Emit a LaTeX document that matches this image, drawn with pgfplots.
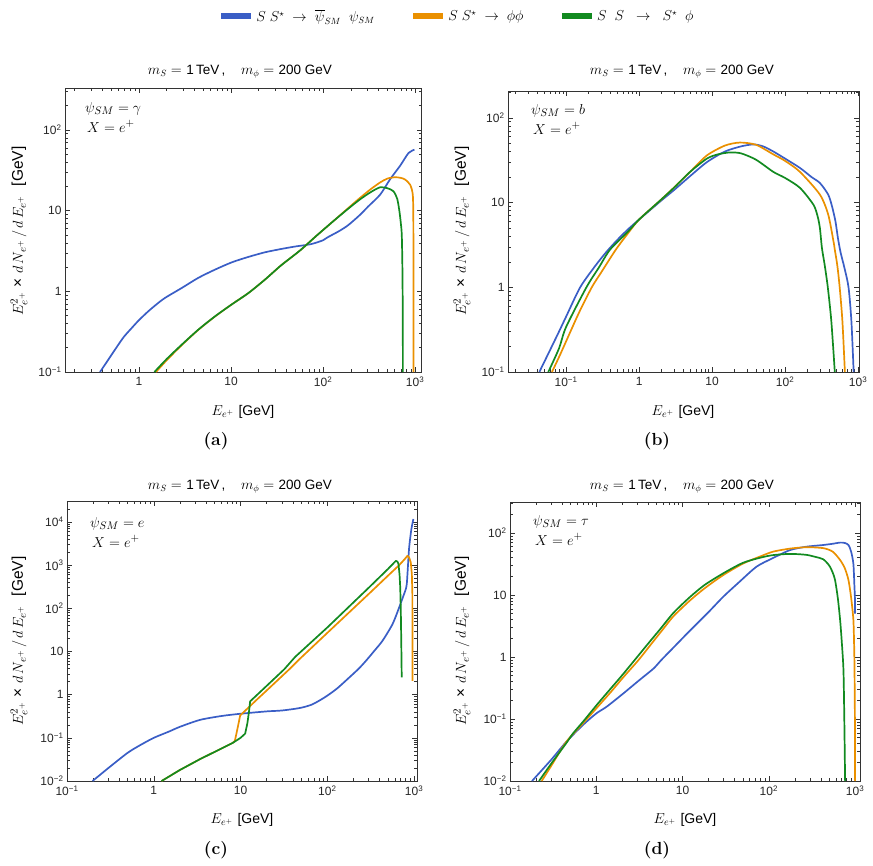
\documentclass[border=0pt]{standalone}
\usepackage{fontspec}
\setsansfont{Liberation Sans}
\usepackage{pgfplots}
\pgfplotsset{compat=1.18}

\definecolor{cblue}{RGB}{58,94,198}
\definecolor{corange}{RGB}{234,144,0}
\definecolor{cgreen}{RGB}{18,138,32}

% common look of the four spectra panels
\pgfplotsset{
  scale only axis,
  axis line style={black!80, line width=0.9pt},
  tick align=inside, major tick length=5pt, minor tick length=2.6pt,
  tick style={black!80, line width=0.5pt},
  tick label style={font=\sffamily\fontsize{12}{13}\selectfont, black!85},
  xticklabel style={yshift=-1.5pt},
  every axis plot/.append style={line width=1.7pt, line join=round, smooth, tension=0.45},
}

\newcommand{\ttl}{\(m_S =\) \textsf{1\,TeV\,,}\;\;\; \(m_{\phi} =\) \textsf{200\ GeV}}
\newcommand{\ylab}{\(E^{2}_{e^{+}}\)~\textsf{×}~\(d\,N_{e^{+}}\,\big/\,d\,E_{e^{+}}\)~~\textsf{[GeV]}}
\newcommand{\xlab}{\(E_{e^{+}}\) \textsf{[GeV]}}

\begin{document}
\begin{tikzpicture}
\path[use as bounding box] (0pt,0pt) rectangle (873pt,-865pt);

% ---------------- (a) psi = gamma ----------------
\begin{loglogaxis}[at={(65pt,-372pt)}, anchor=south west,
  width=356.7pt, height=284pt,
  xmin=0.157, xmax=1180, ymin=0.1, ymax=332,
  xtick={1,10,100,1000}, xticklabels={1,10,10\textsuperscript{2},10\textsuperscript{3}},
  minor xtick={0.2,0.3,0.4,0.5,0.6,0.7,0.8,0.9,2,3,4,5,6,7,8,9,20,30,40,50,60,70,80,90,200,300,400,500,600,700,800,900},
  ytick={0.1,1,10,100}, yticklabels={10\textsuperscript{−1},1,10,10\textsuperscript{2}},
  minor ytick={0.2,0.3,0.4,0.5,0.6,0.7,0.8,0.9,2,3,4,5,6,7,8,9,20,30,40,50,60,70,80,90,200,300},
  legend columns=3,
  legend style={at={(1.098,1.2535)}, anchor=center, draw=none, fill=none,
    font=\fontsize{13.5}{15}\selectfont,
    /tikz/every even column/.append style={column sep=33pt}},
  legend image code/.code={\draw[line width=6.5pt] (0pt,0pt) -- (30pt,0pt);},
]
\addplot[cblue] coordinates {(0.377,0.1) (0.45,0.135) (0.548,0.189) (0.68,0.27) (0.833,0.351) (1,0.44) (1.26,0.565) (1.55,0.69) (1.92,0.83) (2.91,1.1) (4.41,1.47) (6.7,1.86) (10.2,2.29) (15.4,2.67) (23.4,3.05) (35,3.35) (50,3.6) (74,3.85) (100,4.3) (113,4.7) (150,5.6) (187,6.6) (250,8.8) (310,11.3) (417,15.8) (535,24.5) (687,36) (850,52) (985,57)};
\addlegendentry{\(S\;S^{\star}\;\rightarrow\;\overline{\psi}_{S M}\;\;\psi_{S M}\)}
\addplot[corange] coordinates {(1.53,0.1) (2,0.14) (2.91,0.215) (4.41,0.333) (6.7,0.488) (10.2,0.69) (15.4,0.95) (23.4,1.4) (35,2.1) (56,3.2) (85,4.9) (129,7.4) (190,10.9) (252,14.4) (330,18.5) (420,22.5) (500,25) (605,26) (700,25.5) (780,24.3) (883,21) (944,15.8) (957,8) (960,2) (962,0.1)};
\addlegendentry{\(S\;S^{\star}\;\rightarrow\;\phi\phi\)}
\addplot[cgreen] coordinates {(1.47,0.1) (2,0.145) (2.91,0.218) (4.41,0.335) (6.7,0.49) (10.2,0.69) (15.4,0.95) (23.4,1.4) (35,2.1) (56,3.2) (85,4.9) (129,7.4) (190,10.7) (252,13.8) (330,17) (417,19.5) (500,19) (582,17.4) (640,14) (676,9.8) (700,7) (717,5) (728,2) (735,0.5) (737,0.1)};
\addlegendentry{\(S\;\;S\;\;\rightarrow\;\;S^{\star}\;\;\phi\)}
\end{loglogaxis}

% ---------------- (b) psi = b ----------------
\begin{loglogaxis}[at={(508pt,-372pt)}, anchor=south west,
  width=351pt, height=281pt,
  xmin=0.016, xmax=1030, ymin=0.1, ymax=207,
  xtick={0.1,1,10,100,1000}, xticklabels={10\textsuperscript{−1},1,10,10\textsuperscript{2},10\textsuperscript{3}},
  minor xtick={0.02,0.03,0.04,0.05,0.06,0.07,0.08,0.09,0.2,0.3,0.4,0.5,0.6,0.7,0.8,0.9,2,3,4,5,6,7,8,9,20,30,40,50,60,70,80,90,200,300,400,500,600,700,800,900},
  ytick={0.1,1,10,100}, yticklabels={10\textsuperscript{−1},1,10,10\textsuperscript{2}},
  minor ytick={0.2,0.3,0.4,0.5,0.6,0.7,0.8,0.9,2,3,4,5,6,7,8,9,20,30,40,50,60,70,80,90,200},
]
\addplot[cblue] coordinates {(0.043,0.1) (0.06,0.18) (0.08,0.3) (0.1,0.45) (0.156,1) (0.25,1.78) (0.355,2.6) (0.5,3.6) (0.7,4.8) (1,6.3) (2,10.5) (3,14) (5,20.5) (8.5,30) (15,40) (25,46) (37,48.5) (50,46) (69,40) (100,33) (160,25.6) (230,20) (300,17) (390,12.4) (440,9) (490,6) (530,3.8) (575,2.6) (650,1.7) (740,1) (810,0.4) (870,0.1)};
\addplot[corange] coordinates {(0.064,0.1) (0.08,0.15) (0.1,0.23) (0.15,0.5) (0.225,1) (0.3,1.48) (0.48,2.78) (0.7,4.3) (1,6.3) (2,10.8) (3,15) (5,23) (8.5,36) (15,47) (24,51) (40,48) (69,37) (100,31) (160,23) (300,12.4) (390,7.2) (460,3.5) (480,2.78) (520,1.8) (560,1) (610,0.4) (660,0.1)};
\addplot[cgreen] coordinates {(0.057,0.1) (0.08,0.19) (0.1,0.34) (0.19,1) (0.28,1.7) (0.4,2.78) (0.7,4.5) (1,6.3) (2,10.8) (3,14.9) (5,23) (8.5,33) (12,37) (17.6,39) (25,38) (40,32) (69,23) (100,19.5) (160,14.9) (245,9.4) (280,6.8) (300,5) (320,2.9) (350,1.8) (385,1) (430,0.4) (480,0.1)};
\end{loglogaxis}

% ---------------- (c) psi = e ----------------
\begin{loglogaxis}[at={(67pt,-781pt)}, anchor=south west,
  width=350pt, height=280pt,
  xmin=0.1, xmax=1080, ymin=0.01, ymax=30600,
  xtick={0.1,1,10,100,1000}, xticklabels={10\textsuperscript{−1},1,10,10\textsuperscript{2},10\textsuperscript{3}},
  minor xtick={0.2,0.3,0.4,0.5,0.6,0.7,0.8,0.9,2,3,4,5,6,7,8,9,20,30,40,50,60,70,80,90,200,300,400,500,600,700,800,900},
  ytick={0.01,0.1,1,10,100,1000,10000}, yticklabels={10\textsuperscript{−2},10\textsuperscript{−1},1,10,10\textsuperscript{2},10\textsuperscript{3},10\textsuperscript{4}},
  minor ytick={0.02,0.03,0.04,0.05,0.06,0.07,0.08,0.09,0.2,0.3,0.4,0.5,0.6,0.7,0.8,0.9,2,3,4,5,6,7,8,9,20,30,40,50,60,70,80,90,200,300,400,500,600,700,800,900,2000,3000,4000,5000,6000,7000,8000,9000,20000,30000},
]
\addplot[cblue] coordinates {(0.197,0.01) (0.3,0.02) (0.5,0.045) (0.7,0.068) (1,0.1) (1.5,0.14) (2,0.18) (3.4,0.26) (6,0.32) (9.8,0.36) (20,0.41) (30,0.43) (48,0.49) (65,0.58) (81,0.73) (100,0.95) (130,1.4) (179,2.5) (230,4) (279,6.1) (350,10.5) (433,17.8) (564,43) (673,105) (750,190) (803,280) (825,380) (845,800) (877,2570) (930,6800) (982,11700)};
\addplot[corange, sharp plot] coordinates {(1.23,0.01) (2,0.018) (3.4,0.032) (5,0.047) (8.1,0.076) (8.6,0.085) (9.2,0.16) (9.9,0.33) (15,0.73) (20,1.25) (36.6,3.9) (47.6,6.6) (100,27) (300,215) (500,570) (673,1000) (780,1380) (838,1650) (877,1500) (916,1150) (942,620) (955,215) (957,30) (958,2.1)};
\addplot[cgreen, sharp plot] coordinates {(1.23,0.01) (2,0.018) (3.4,0.032) (5,0.047) (8.1,0.076) (10,0.1) (11.3,0.125) (12,0.22) (12.5,0.4) (12.9,0.7) (20,1.6) (32,3.9) (42.6,7.5) (100,36) (300,300) (500,815) (617,1260) (645,1200) (661,1060) (680,600) (692,305) (703,88) (712,15) (720,2.5)};
\end{loglogaxis}

% ---------------- (d) psi = tau ----------------
\begin{loglogaxis}[at={(510pt,-781pt)}, anchor=south west,
  width=350pt, height=279pt,
  xmin=0.1, xmax=1140, ymin=0.01, ymax=316,
  xtick={0.1,1,10,100,1000}, xticklabels={10\textsuperscript{−1},1,10,10\textsuperscript{2},10\textsuperscript{3}},
  minor xtick={0.2,0.3,0.4,0.5,0.6,0.7,0.8,0.9,2,3,4,5,6,7,8,9,20,30,40,50,60,70,80,90,200,300,400,500,600,700,800,900},
  ytick={0.01,0.1,1,10,100}, yticklabels={10\textsuperscript{−2},10\textsuperscript{−1},1,10,10\textsuperscript{2}},
  minor ytick={0.02,0.03,0.04,0.05,0.06,0.07,0.08,0.09,0.2,0.3,0.4,0.5,0.6,0.7,0.8,0.9,2,3,4,5,6,7,8,9,20,30,40,50,60,70,80,90,200,300},
]
\addplot[cblue] coordinates {(0.18,0.01) (0.3,0.022) (0.45,0.043) (0.7,0.08) (1,0.123) (1.32,0.158) (2,0.25) (3.2,0.43) (4.6,0.65) (5.7,0.9) (8,1.46) (12.3,2.7) (20,5.3) (29.7,9.4) (45,16) (72,28.6) (110,39) (176,53) (270,60) (427,64) (550,67) (670,70) (760,69) (838,64) (900,50) (955,32) (980,15) (995,9) (1000,5)};
\addplot[corange] coordinates {(0.233,0.01) (0.3,0.0175) (0.45,0.043) (0.7,0.085) (1,0.148) (1.5,0.28) (2,0.45) (3.1,0.9) (4.5,1.73) (6,2.86) (7.8,4.5) (12,8) (18,12.8) (29.7,21) (50,32) (80,42) (112,50) (176,56) (275,59) (427,57) (550,50) (670,36.7) (760,27) (838,17.4) (900,9) (955,4) (975,1.5) (985,0.6) (995,0.1) (1000,0.01)};
\addplot[cgreen] coordinates {(0.217,0.01) (0.3,0.019) (0.45,0.041) (0.54,0.059) (0.7,0.09) (1,0.165) (1.32,0.26) (2,0.51) (2.8,0.9) (4,1.65) (5.5,2.81) (7.8,5.1) (12,9.1) (18,14.5) (29.7,22.4) (50,33) (80,40) (112,44) (176,46) (270,44.5) (350,41) (427,37.7) (500,30) (550,23) (586,17.4) (630,9) (670,4) (700,1.8) (733,0.62) (750,0.1) (766,0.01)};
\end{loglogaxis}

% titles
\foreach \cx/\cy in {240/72, 682/72, 240/487, 682/487}
  \node[font=\fontsize{13.5}{15}\selectfont] at (\cx pt,-\cy pt) {\ttl};

% y labels
\foreach \cx/\cy in {19/231, 462/231, 19/641, 462/641}
  \node[rotate=90, font=\fontsize{15.5}{17}\selectfont] at (\cx pt,-\cy pt) {\ylab};

% x labels
\foreach \cx/\cy in {243/412, 683/412, 242/820, 685/820}
  \node[font=\fontsize{14}{16}\selectfont] at (\cx pt,-\cy pt) {\xlab};

% in-panel annotations
\begin{scope}[every node/.style={anchor=base west, inner sep=0pt, font=\fontsize{15}{16}\selectfont}]
  \node at (85pt,-112pt) {\(\psi_{S M} = \gamma\)};
  \node at (87pt,-132pt) {\(X = e^{+}\)};
  \node at (531pt,-114pt) {\(\psi_{S M} = b\)};
  \node at (533pt,-134pt) {\(X = e^{+}\)};
  \node at (90pt,-527pt) {\(\psi_{S M} = e\)};
  \node at (92pt,-547pt) {\(X = e^{+}\)};
  \node at (533pt,-525pt) {\(\psi_{S M} = \tau\)};
  \node at (535pt,-545pt) {\(X = e^{+}\)};
\end{scope}

% sub-captions
\begin{scope}[every node/.style={font=\bfseries\fontsize{17.5}{19}\selectfont}]
  \node at (216pt,-441pt) {(a)};
  \node at (657pt,-441pt) {(b)};
  \node at (216pt,-850pt) {(c)};
  \node at (657pt,-850pt) {(d)};
\end{scope}
\end{tikzpicture}
\end{document}
